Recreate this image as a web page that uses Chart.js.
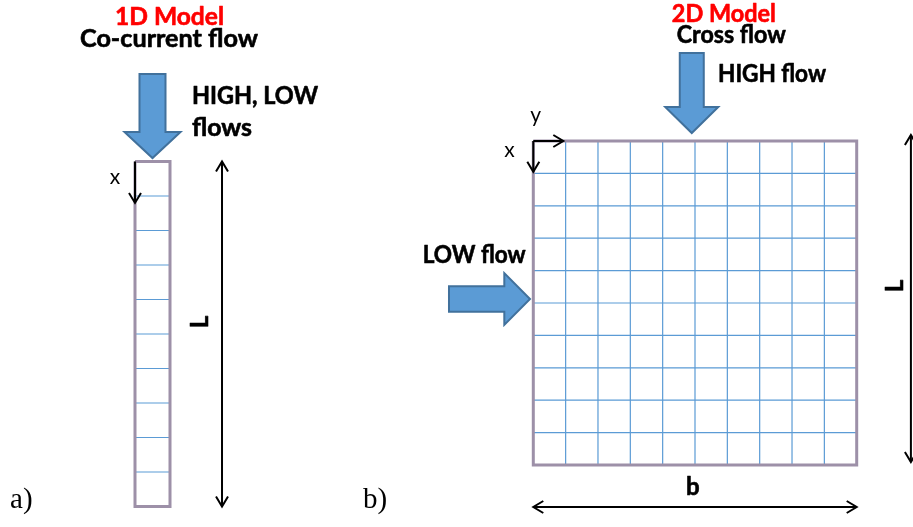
<!DOCTYPE html>
<html><head><meta charset="utf-8">
<style>html,body{margin:0;padding:0;background:#fff;overflow:hidden}canvas{display:block}</style>
<script src="https://cdn.jsdelivr.net/npm/chart.js@4.4.1/dist/chart.umd.min.js"></script>
</head><body>
<canvas id="c" width="913" height="527"></canvas>
<script>
// ---------------- data ----------------
const panelTags = ['a)', 'b)'];
const panelTitles = ['1D Model', '2D Model'];
const flowModes = ['Co-current flow', 'Cross flow'];
const inletLabels1D = ['HIGH, LOW', 'flows'];
const inletLabels2D = ['HIGH flow', 'LOW flow'];
const coordLabels = ['x', 'y'];
const dimLabels = ['L', 'b'];
const nodes1D = [0, 1, 2, 3, 4, 5, 6, 7, 8, 9, 10];     // cell boundaries along L (1D)
const width1D = [0, 1];                                  // single cell across
const nodesRow2D = [0, 1, 2, 3, 4, 5, 6, 7, 8, 9, 10];  // cell boundaries along L (2D)
const nodesCol2D = [0, 1, 2, 3, 4, 5, 6, 7, 8, 9, 10];  // cell boundaries along b (2D)

// ---------------- layout / style ----------------
const W = 913, H = 527;
const PANEL = {
  a: { origin: [135, 161.5], unit: [35, 34.5] },
  b: { origin: [533.3, 141], unit: [32.34, 32.4] }
};
function rng(o, u, size) { return { min: -o / u, max: (size - o) / u }; }
const FRAME_COLOR = '#9d90a8';
const GRID_COLOR = '#5b9bd5';
const ARROW_FILL = '#5b9bd5';
const ARROW_EDGE = '#41719c';
const BOLD = 'bold 24px Lato, "Open Sans", sans-serif';
const REG = '21px Lato, "Open Sans", sans-serif';
const SERIF = '29px "Liberation Serif", "DejaVu Serif", serif';

const GAP = { x: NaN, y: NaN };
function hLines(rows, cols) {
  const out = [];
  rows.slice(1, -1).forEach(r => { out.push({ x: cols[0], y: r }, { x: cols[cols.length - 1], y: r }, GAP); });
  return out;
}
function vLines(rows, cols) {
  const out = [];
  cols.slice(1, -1).forEach(c => { out.push({ x: c, y: rows[0] }, { x: c, y: rows[rows.length - 1] }, GAP); });
  return out;
}
function frame(rows, cols) {
  const r0 = rows[0], r1 = rows[rows.length - 1], c0 = cols[0], c1 = cols[cols.length - 1];
  return [{ x: c0, y: r0 }, { x: c1, y: r0 }, { x: c1, y: r1 }, { x: c0, y: r1 }, { x: c0, y: r0 }];
}
const lineDs = (data, xid, yid, color, w, order) => ({
  data, xAxisID: xid, yAxisID: yid, showLine: true, pointRadius: 0, pointHoverRadius: 0,
  borderColor: color, borderWidth: w, fill: false, tension: 0, spanGaps: false, order,
  borderJoinStyle: 'miter', borderCapStyle: 'butt'
});

const datasets = [
  lineDs(frame(nodes1D, width1D), 'xa', 'ya', FRAME_COLOR, 3, 0),
  lineDs(frame(nodesRow2D, nodesCol2D), 'xb', 'yb', FRAME_COLOR, 3, 0),
  lineDs(hLines(nodes1D, width1D), 'xa', 'ya', GRID_COLOR, 1.2, 1),
  lineDs(hLines(nodesRow2D, nodesCol2D), 'xb', 'yb', GRID_COLOR, 1.2, 1),
  lineDs(vLines(nodesRow2D, nodesCol2D), 'xb', 'yb', GRID_COLOR, 1.2, 1)
];

// ---------------- drawing helpers ----------------
function label(ctx, str, x, y, o) {
  ctx.save();
  ctx.font = o.font; ctx.fillStyle = o.color || '#000';
  ctx.textBaseline = o.baseline || 'alphabetic';
  ctx.translate(x, y);
  if (o.rotate) ctx.rotate(o.rotate);
  const w = ctx.measureText(str).width;
  const sx = o.fit ? o.fit / w : 1;
  ctx.scale(sx, 1);
  const a = o.align || 'left';
  const dx = a === 'center' ? -w / 2 : a === 'right' ? -w : 0;
  ctx.fillText(str, dx, 0);
  if (o.heavy) {
    ctx.strokeStyle = o.color || '#000'; ctx.lineWidth = o.heavy; ctx.lineJoin = 'round';
    ctx.strokeText(str, dx, 0);
  }
  ctx.restore();
}
function blockArrow(ctx, t, p, shaftW, headW, headL) {
  const dx = p[0] - t[0], dy = p[1] - t[1], len = Math.hypot(dx, dy);
  const ux = dx / len, uy = dy / len, nx = -uy, ny = ux;
  const bx = p[0] - ux * headL, by = p[1] - uy * headL;
  const pts = [
    [t[0] + nx * shaftW / 2, t[1] + ny * shaftW / 2],
    [bx + nx * shaftW / 2, by + ny * shaftW / 2],
    [bx + nx * headW / 2, by + ny * headW / 2],
    [p[0], p[1]],
    [bx - nx * headW / 2, by - ny * headW / 2],
    [bx - nx * shaftW / 2, by - ny * shaftW / 2],
    [t[0] - nx * shaftW / 2, t[1] - ny * shaftW / 2]
  ];
  ctx.save();
  ctx.beginPath();
  pts.forEach((q, i) => i ? ctx.lineTo(q[0], q[1]) : ctx.moveTo(q[0], q[1]));
  ctx.closePath();
  ctx.fillStyle = ARROW_FILL; ctx.fill();
  ctx.lineWidth = 2; ctx.strokeStyle = ARROW_EDGE; ctx.lineJoin = 'miter'; ctx.stroke();
  ctx.restore();
}
function chevron(ctx, tip, from, L, h) {
  const dx = tip[0] - from[0], dy = tip[1] - from[1], len = Math.hypot(dx, dy);
  const ux = dx / len, uy = dy / len, nx = -uy, ny = ux;
  ctx.beginPath();
  ctx.moveTo(tip[0] - ux * L + nx * h, tip[1] - uy * L + ny * h);
  ctx.lineTo(tip[0], tip[1]);
  ctx.lineTo(tip[0] - ux * L - nx * h, tip[1] - uy * L - ny * h);
  ctx.stroke();
}
function thinArrow(ctx, a, b, both) {
  ctx.save();
  ctx.strokeStyle = '#000'; ctx.lineWidth = 2; ctx.lineCap = 'butt'; ctx.lineJoin = 'miter';
  ctx.beginPath(); ctx.moveTo(a[0], a[1]); ctx.lineTo(b[0], b[1]); ctx.stroke();
  chevron(ctx, b, a, 10, 6);
  if (both) chevron(ctx, a, b, 10, 6);
  ctx.restore();
}

const diagramPlugin = {
  id: 'diagram',
  afterDatasetsDraw(chart) {
    const ctx = chart.ctx, s = chart.scales;
    const A = (x, y) => [s.xa.getPixelForValue(x), s.ya.getPixelForValue(y)];
    const B = (x, y) => [s.xb.getPixelForValue(x), s.yb.getPixelForValue(y)];
    const last1 = nodes1D[nodes1D.length - 1];
    const lastR = nodesRow2D[nodesRow2D.length - 1];
    const lastC = nodesCol2D[nodesCol2D.length - 1];
    const HV = 0.6;

    // ----- panel a (1D) -----
    blockArrow(ctx, A(0.5, -2.536), A(0.5, -0.101), 26, 56, 26);
    thinArrow(ctx, A(0, 0), A(0, 1.2), false);
    thinArrow(ctx, A(2.486, nodes1D[0]), A(2.486, last1), true);
    let p;
    p = A(0.986, -3.957); label(ctx, panelTitles[0], p[0], p[1], { font: BOLD, color: '#ff0000', align: 'center', fit: 109, heavy: HV });
    p = A(0.971, -3.319); label(ctx, flowModes[0], p[0], p[1], { font: BOLD, align: 'center', fit: 178, heavy: HV });
    p = A(1.629, -1.667); label(ctx, inletLabels1D[0], p[0], p[1], { font: BOLD, fit: 126, heavy: HV });
    p = A(1.629, -0.725); label(ctx, inletLabels1D[1], p[0], p[1], { font: BOLD, fit: 60, heavy: HV });
    p = A(-0.571, 0.661); label(ctx, coordLabels[0], p[0], p[1], { font: REG, align: 'center' });
    p = A(1.857, 4.652); label(ctx, dimLabels[0], p[0], p[1], { font: BOLD, align: 'center', baseline: 'middle', rotate: -Math.PI / 2, heavy: HV });
    p = A(-3.571, 10.043); label(ctx, panelTags[0], p[0], p[1], { font: SERIF });

    // ----- panel b (2D) -----
    blockArrow(ctx, B(4.9, -2.716), B(4.9, -0.247), 24, 53, 26);
    blockArrow(ctx, B(-2.607, 4.877), B(-0.102, 4.877), 25.7, 51.7, 25.7);
    thinArrow(ctx, B(0, 0), B(0.928, 0), false);
    thinArrow(ctx, B(0, 0), B(0, 0.948), false);
    thinArrow(ctx, B(nodesCol2D[0], 11.296), B(lastC, 11.296), true);
    thinArrow(ctx, B(11.676, -0.185), B(11.676, lastR - 0.093), true);
    p = B(5.89, -3.673); label(ctx, panelTitles[1], p[0], p[1], { font: BOLD, color: '#ff0000', align: 'center', fit: 104, heavy: HV });
    p = B(6.122, -3.034); label(ctx, flowModes[1], p[0], p[1], { font: BOLD, align: 'center', fit: 109, heavy: HV });
    p = B(5.711, -1.830); label(ctx, inletLabels2D[0], p[0], p[1], { font: BOLD, fit: 108, heavy: HV });
    p = B(-3.42, 3.756); label(ctx, inletLabels2D[1], p[0], p[1], { font: BOLD, fit: 103, heavy: HV });
    p = B(0.074, -0.596); label(ctx, coordLabels[1], p[0], p[1], { font: REG, align: 'center' });
    p = B(-0.736, 0.509); label(ctx, coordLabels[0], p[0], p[1], { font: REG, align: 'center' });
    p = B(4.935, 10.926); label(ctx, dimLabels[1], p[0], p[1], { font: BOLD, align: 'center', heavy: HV });
    p = B(11.18, 4.475); label(ctx, dimLabels[0], p[0], p[1], { font: BOLD, align: 'center', baseline: 'middle', rotate: -Math.PI / 2, heavy: HV });
    p = B(-5.266, 11.327); label(ctx, panelTags[1], p[0], p[1], { font: SERIF });
  }
};

const hid = (axis, r, reverse) => ({ type: 'linear', axis, display: false, min: r.min, max: r.max, reverse: !!reverse, grid: { display: false } });

new Chart(document.getElementById('c'), {
  type: 'scatter',
  data: { datasets },
  options: {
    responsive: false, animation: false, devicePixelRatio: 1,
    layout: { padding: 0 },
    plugins: { legend: { display: false }, tooltip: { enabled: false }, title: { display: false } },
    events: [],
    scales: {
      xa: hid('x', rng(PANEL.a.origin[0], PANEL.a.unit[0], W)),
      ya: hid('y', rng(PANEL.a.origin[1], PANEL.a.unit[1], H), true),
      xb: hid('x', rng(PANEL.b.origin[0], PANEL.b.unit[0], W)),
      yb: hid('y', rng(PANEL.b.origin[1], PANEL.b.unit[1], H), true)
    }
  },
  plugins: [diagramPlugin]
});
</script>
</body></html>
